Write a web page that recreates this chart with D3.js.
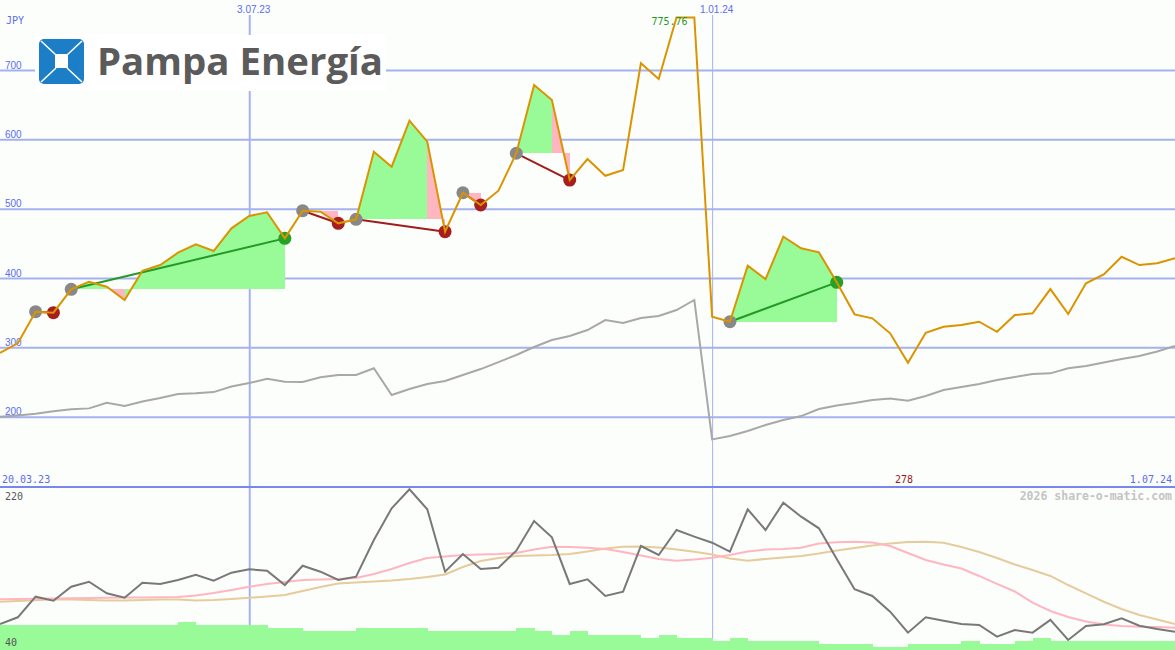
<!DOCTYPE html>
<html>
<head>
<meta charset="utf-8">
<script src="https://cdn.jsdelivr.net/npm/d3@7"></script>
<style>
body { margin: 0; background: #fcfefc; }
svg { display: block; }
</style>
</head>
<body>
<div id="chart"></div>
<script>
// weekly closes, JPY
var weeks = ["2023-03-27","2023-04-03","2023-04-10","2023-04-17","2023-04-24","2023-05-01","2023-05-08","2023-05-15","2023-05-22","2023-05-29",
             "2023-06-05","2023-06-12","2023-06-19","2023-06-26","2023-07-03","2023-07-10","2023-07-17","2023-07-24","2023-07-31","2023-08-07",
             "2023-08-14","2023-08-21","2023-08-28","2023-09-04","2023-09-11","2023-09-18","2023-09-25","2023-10-02","2023-10-09","2023-10-16",
             "2023-10-23","2023-10-30","2023-11-06","2023-11-13","2023-11-20","2023-11-27","2023-12-04","2023-12-11","2023-12-18","2023-12-25",
             "2024-01-01","2024-01-08","2024-01-15","2024-01-22","2024-01-29","2024-02-05","2024-02-12","2024-02-19","2024-02-26","2024-03-04",
             "2024-03-11","2024-03-18","2024-03-25","2024-04-01","2024-04-08","2024-04-15","2024-04-22","2024-04-29","2024-05-06","2024-05-13",
             "2024-05-20","2024-05-27","2024-06-03","2024-06-10","2024-06-17","2024-06-24","2024-07-01"];

var price = [292.2, 305.8, 351.4, 350.0, 383.7, 394.7, 387.4, 368.3, 410.5, 418.7,
             436.5, 448.6, 438.9, 471.7, 489.4, 494.8, 457.2, 497.1, 495.6, 478.9,
             484.7, 582.2, 560.5, 626.9, 596.6, 466.8, 523.0, 505.3, 525.9, 579.9,
             678.4, 656.7, 541.3, 571.6, 547.5, 555.8, 709.7, 687.0, 775.76, 775.76,
             344.2, 336.9, 417.7, 398.5, 459.6, 442.8, 437.0, 393.8, 347.6, 341.9,
             320.2, 277.8, 321.1, 329.7, 332.2, 337.0, 322.5, 346.6, 349.1, 384.1,
             348.1, 392.3, 405.3, 430.7, 418.7, 421.2, 428.4];

var benchmark = [200, 201.9, 204.2, 207.7, 210.7, 212, 220.1, 215.4, 221.8, 226.9,
                 232.7, 233.7, 235.5, 243.5, 248.5, 254.7, 250.4, 250, 256.8, 260.1,
                 260.1, 269.8, 231.2, 239.9, 247.1, 251.4, 260.1, 268.7, 278.8, 289,
                 300.5, 310.6, 316.4, 325, 339.4, 335.1, 342.3, 345.2, 353.8, 368.3,
                 167.3, 172.1, 179.3, 188, 195.2, 200.9, 211, 216.1, 219.7, 224,
                 226.2, 223, 229.8, 238.4, 242.8, 247.1, 252.9, 257.2, 261.5, 262.5,
                 269.8, 273.1, 278.1, 283.2, 287.5, 294, 301.9];

// lower panel
var osc = [69.3, 76.8, 100, 95.5, 111.2, 116.8, 103.8, 98.8, 115.7, 114.3,
           118.8, 124.7, 118, 127, 130.8, 129.2, 113.1, 134.8, 128.1, 118.8,
           122.5, 163.8, 199.4, 220.8, 198.3, 128.1, 148, 131.1, 132.6, 151.7,
           185.1, 166.8, 114.3, 119.5, 100.8, 105.6, 157, 146.9, 175, 167.5,
           160.7, 150.6, 198.3, 175, 205.7, 190, 176.9, 142.4, 108.3, 100.8,
           83.1, 59.5, 76.8, 73, 69.3, 68.1, 55, 62.5, 59.5, 73.8,
           51.3, 67, 68.9, 75.7, 67.3, 63.6, 60.6];

var avgFast = [97.0, 97.4, 97.6, 97.9, 98.2, 98.5, 98.7, 99.1, 99.1, 99.3,
               99.6, 101.3, 104.1, 107.5, 111.2, 114.3, 116.5, 118.8, 119.3, 119.9,
               121, 125.5, 131.1, 137.9, 143.5, 145.2, 146.9, 147.4, 148, 149.1,
               153.1, 156.2, 155.9, 155, 153.6, 150.3, 146.3, 142.4, 140.5, 141.8,
               143.7, 146.9, 150.8, 153.1, 153.6, 155.1, 159.8, 161.2, 161.8, 160.9,
               157, 149.1, 141.3, 136.2, 131.7, 123.3, 114.3, 105.8, 93.4, 83.9,
               77.1, 72.1, 68.7, 67, 66.2, 65.9, 65.1];

var avgSlow = [94.3, 95.1, 95.9, 97, 96.8, 96.3, 95.7, 95.7, 96.3, 96.8,
               96.8, 95.7, 96.3, 97.4, 98.8, 100.2, 101.9, 106.4, 110.9, 114.8,
               115.9, 117.1, 118.2, 119.9, 122.1, 124.9, 133.4, 140.1, 143.5, 145.8,
               146.3, 146.9, 148, 150.8, 154.2, 156.2, 156.4, 155.3, 153.1, 150.6,
               147.4, 142.9, 140.5, 142.4, 144.1, 145.8, 148.6, 151.9, 154.8, 157.6,
               159.8, 161.5, 161.8, 160.7, 155.9, 150.3, 143.5, 136.2, 130, 123.3,
               113.1, 103.6, 94.3, 86.1, 79.4, 74.3, 69.3];

var volume = [15.6, 15.6, 15.6, 15.6, 15.6, 15.6, 15.6, 15.6, 15.6, 15.6,
              17.5, 15.6, 15.6, 15.6, 15.6, 13.8, 13.8, 11.9, 11.9, 11.9,
              13.8, 13.8, 13.8, 13.8, 11.9, 11.9, 11.9, 11.9, 11.9, 13.8,
              11.9, 9.4, 11.9, 9.4, 9.4, 9.4, 7.5, 9.4, 7.5, 7.5,
              5.6, 7.5, 5.6, 5.6, 5.6, 5.6, 3.8, 3.8, 3.8, 1.9,
              1.9, 3.8, 3.8, 3.8, 5.6, 3.8, 3.8, 5.6, 7.5, 5.6,
              5.6, 5.6, 5.6, 5.6, 5.6, 5.6];

// trade signals (week index)
var tradeIn  = [2, 4, 17, 20, 26, 29, 41];
var tradeOut = [3, 16, 19, 25, 27, 32, 47];

var priceTicks = [200, 300, 400, 500, 600, 700];
var dateTicks = ["2023-07-03", "2024-01-01"];
var cornerLabels = ["20.03.23", "1.07.24"];

function init() {
    var w = 1175;
    var h = 650;
    var mono = "'DejaVu Sans Mono', monospace";
    var blueText = "#5a6cf0";
    var gridCol = "#a6b2f0";
    var green = "#98fb98", pink = "#ffb6c1";

    var parse = d3.timeParse("%Y-%m-%d");
    var dates = weeks.map(parse);

    var x = d3.scaleTime().domain([dates[0], dates[dates.length - 1]]).range([0, w]);
    var y = d3.scaleLinear().domain([200, 700]).range([416.7, 70]);
    var y2 = d3.scaleLinear().domain([40, 220]).range([650, 490]);
    var yv = d3.scaleLinear().domain([0, 100]).range([650, 490]);

    var svg = d3.select("#chart")
                .append("svg")
                .attr("width", w)
                .attr("height", h);

    svg.append("rect").attr("width", w).attr("height", h).attr("fill", "#fcfefc");

    // horizontal grid
    svg.append("g")
       .attr("font-family", mono)
       .call(d3.axisRight(y).tickValues(priceTicks).tickSize(w).tickFormat(d3.format("d")))
       .call(function(g) {
           g.select(".domain").remove();
           g.selectAll("line").attr("stroke", gridCol).attr("stroke-width", 2);
           g.selectAll("text").attr("x", 5).attr("dy", -2).attr("fill", blueText)
            .attr("font-size", 10).attr("text-anchor", "start");
       });

    // vertical date lines
    svg.append("g")
       .attr("transform", "translate(0," + h + ")")
       .attr("font-family", mono)
       .call(d3.axisTop(x).tickValues(dateTicks.map(parse)).tickSize(h - 15)
               .tickFormat(d3.timeFormat("%-d.%m.%y")))
       .call(function(g) {
           g.select(".domain").remove();
           g.selectAll("line").attr("stroke", gridCol)
            .attr("stroke-width", function(d, i) { return i == 0 ? 2 : 1; });
           g.selectAll("text").attr("fill", blueText).attr("font-size", 10)
            .attr("dx", 4).attr("dy", 1);
       });

    // logo
    var logo = svg.append("g");
    logo.append("rect").attr("x", 35).attr("y", 35).attr("width", 351).attr("height", 56).attr("fill", "#ffffff");
    logo.append("rect").attr("x", 39).attr("y", 39).attr("width", 45).attr("height", 45).attr("rx", 5).attr("fill", "#1b7ec6");
    [[41, 41, 56, 55], [82, 41, 67, 55], [41, 82, 56, 68], [82, 82, 67, 68]].forEach(function(l) {
        logo.append("line").attr("x1", l[0]).attr("y1", l[1]).attr("x2", l[2]).attr("y2", l[3])
            .attr("stroke", "#ffffff").attr("stroke-width", 1.6);
    });
    logo.append("rect").attr("x", 55).attr("y", 54).attr("width", 13).attr("height", 14).attr("fill", "#ffffff");
    logo.append("text").attr("x", 97).attr("y", 75)
        .attr("font-family", "'Open Sans', sans-serif").attr("font-weight", 700).attr("font-size", 38)
        .attr("textLength", 286).attr("lengthAdjust", "spacingAndGlyphs")
        .attr("fill", "#5b5b5b").text("Pampa Energía");

    svg.append("text").attr("x", 6).attr("y", 24).attr("font-family", mono).attr("font-size", 10)
       .attr("fill", blueText).text("JPY");

    // separator
    svg.append("line").attr("x1", 0).attr("x2", w).attr("y1", 487).attr("y2", 487)
       .attr("stroke", "#7886ee").attr("stroke-width", 2);

    // benchmark
    var line = d3.line().x(function(d, i) { return x(dates[i]); });
    svg.append("path")
       .attr("d", line.y(function(d) { return y(d); })(benchmark))
       .attr("fill", "none").attr("stroke", "#a8a8a8").attr("stroke-width", 2);

    // trade fills
    var fills = svg.append("g").attr("shape-rendering", "crispEdges");
    tradeIn.forEach(function(a, k) {
        var b = tradeOut[k];
        var base = price[a];
        for (var i = a; i < b; i++) {
            var pts = [[x(dates[i]), y(price[i])], [x(dates[i + 1]), y(price[i + 1])],
                       [x(dates[i + 1]), y(base)], [x(dates[i]), y(base)]];
            fills.append("path").attr("d", d3.line()(pts) + "Z")
                 .attr("fill", price[i + 1] >= base ? green : pink);
        }
    });

    // trade lines
    tradeIn.forEach(function(a, k) {
        var b = tradeOut[k];
        svg.append("line")
           .attr("x1", x(dates[a])).attr("y1", y(price[a]))
           .attr("x2", x(dates[b])).attr("y2", y(price[b]))
           .attr("stroke", price[b] > price[a] ? "#249a24" : "#a01c1c").attr("stroke-width", 2);
    });

    // markers
    tradeIn.forEach(function(a, k) {
        var b = tradeOut[k];
        svg.append("circle").attr("cx", x(dates[a])).attr("cy", y(price[a])).attr("r", 6.5).attr("fill", "#888888");
        svg.append("circle").attr("cx", x(dates[b])).attr("cy", y(price[b])).attr("r", 6.5)
           .attr("fill", price[b] > price[a] ? "#26a026" : "#a61e1e");
    });

    // price
    svg.append("path")
       .attr("d", line.y(function(d) { return y(d); })(price))
       .attr("fill", "none").attr("stroke", "#db9400").attr("stroke-width", 2);

    // max / min labels
    var maxI = d3.maxIndex(price), minI = d3.minIndex(price);
    svg.append("text").attr("x", x(dates[maxI]) + 11).attr("y", 25).attr("text-anchor", "end")
       .attr("font-family", mono).attr("font-size", 10).attr("fill", "#1e9a1e")
       .text(d3.format(".2f")(price[maxI]));
    svg.append("text").attr("x", x(dates[minI]) - 4).attr("y", 483).attr("text-anchor", "middle")
       .attr("font-family", mono).attr("font-size", 10).attr("fill", "#a01818")
       .text(d3.format(".0f")(price[minI]));

    svg.append("text").attr("x", 2).attr("y", 483).attr("font-family", mono).attr("font-size", 10)
       .attr("fill", blueText).text(cornerLabels[0]);
    svg.append("text").attr("x", 1172).attr("y", 483).attr("text-anchor", "end").attr("font-family", mono)
       .attr("font-size", 10).attr("fill", blueText).text(cornerLabels[1]);

    // lower panel
    svg.append("g").attr("shape-rendering", "crispEdges")
       .selectAll("rect")
       .data(volume)
       .enter()
       .append("rect")
       .attr("x", function(d, i) { return x(dates[i]); })
       .attr("y", function(d) { return yv(d); })
       .attr("width", function(d, i) { return x(dates[i + 1]) - x(dates[i]) + 0.5; })
       .attr("height", function(d) { return h - yv(d); })
       .attr("fill", green);

    var line2 = d3.line().x(function(d, i) { return x(dates[i]); }).y(function(d) { return y2(d); });
    svg.append("path").attr("d", line2(avgSlow)).attr("fill", "none").attr("stroke", "#e6cc9c").attr("stroke-width", 2);
    svg.append("path").attr("d", line2(avgFast)).attr("fill", "none").attr("stroke", "#ffb6c1").attr("stroke-width", 2);
    svg.append("path").attr("d", line2(osc)).attr("fill", "none").attr("stroke", "#787878").attr("stroke-width", 2);

    svg.append("text").attr("x", 5).attr("y", 500).attr("font-family", mono).attr("font-size", 10)
       .attr("fill", "#555555").text(y2.domain()[1]);
    svg.append("text").attr("x", 5).attr("y", 646).attr("font-family", mono).attr("font-size", 10)
       .attr("fill", "#555555").text(y2.domain()[0]);

    svg.append("text").attr("x", 1172).attr("y", 500).attr("text-anchor", "end")
       .attr("font-family", mono).attr("font-size", 11.5).attr("font-weight", "bold")
       .attr("fill", "#c4c4c4").text("2026 share-o-matic.com");
}

window.onload = init;
</script>
</body>
</html>
